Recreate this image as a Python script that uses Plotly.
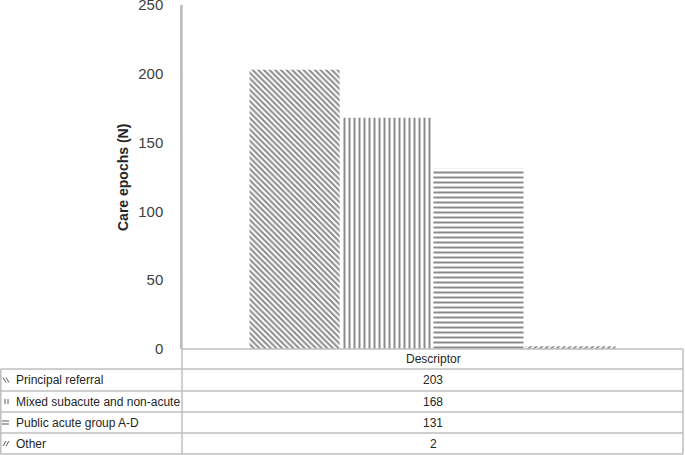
import plotly.graph_objects as go

categories = ["Descriptor"]
series_names = ["Principal referral", "Mixed subacute and non-acute", "Public acute group A-D", "Other"]
series_values = [203, 168, 131, 2]
pattern_shapes = ["\\", "|", "-", "/"]
y_ticks = [0, 50, 100, 150, 200, 250]

W, H = 685, 455
L, R, T, B = 182, 2, 5, 106
PW = W - L - R
PH = H - T - B

def px(x):
    return (x - L) / PW

def py(y):
    return (H - B - y) / PH

fig = go.Figure()
for name, val, shp in zip(series_names, series_values, pattern_shapes):
    fig.add_trace(go.Bar(
        x=categories, y=[val], name=name,
        marker=dict(color="white", line=dict(width=0),
                    pattern=dict(shape=shp, fgcolor="#151515", bgcolor="white",
                                 size=5 if shp in ("|", "-") else 4,
                                 solidity=0.4 if shp in ("|", "-") else 0.5)),
        showlegend=False,
    ))

FONT = "Liberation Sans"
TXT = "#262626"
GRID = "#bfbfbf"

shapes = []
row_lines = [349, 369, 391, 412, 433, 454]
for i, yy in enumerate(row_lines):
    x0 = 182 if i == 0 else 0.5
    shapes.append(dict(type="line", xref="paper", yref="paper", x0=px(x0), x1=px(683),
                       y0=py(yy), y1=py(yy), line=dict(color=GRID, width=1.5), layer="above"))
shapes.append(dict(type="line", xref="paper", yref="paper", x0=px(182), x1=px(182),
                   y0=py(5), y1=py(454), line=dict(color=GRID, width=1.5)))
shapes.append(dict(type="line", xref="paper", yref="paper", x0=px(683), x1=px(683),
                   y0=py(349), y1=py(454), line=dict(color=GRID, width=1.5)))
shapes.append(dict(type="line", xref="paper", yref="paper", x0=px(0.8), x1=px(0.8),
                   y0=py(369), y1=py(454), line=dict(color=GRID, width=1.5)))

row_centers = [380, 401.5, 422.5, 443.5]
ICON = "#595959"
def seg(x0, y0, x1, y1):
    shapes.append(dict(type="line", xref="paper", yref="paper", x0=px(x0), x1=px(x1),
                       y0=py(y0), y1=py(y1), line=dict(color=ICON, width=1)))
c = row_centers[0]
seg(3, c - 2.5, 6, c + 2.5); seg(6, c - 2.5, 9, c + 2.5)
c = row_centers[1]
seg(5, c - 2.5, 5, c + 2.5); seg(8, c - 2.5, 8, c + 2.5)
c = row_centers[2]
seg(2, c - 1.5, 9, c - 1.5); seg(2, c + 1.5, 9, c + 1.5)
c = row_centers[3]
seg(3, c + 2.5, 6, c - 2.5); seg(6, c + 2.5, 9, c - 2.5)

annotations = []
def ann(text, x, y, xa="center", size=12, angle=0):
    annotations.append(dict(text=text, xref="paper", yref="paper", x=px(x), y=py(y),
                            xanchor=xa, yanchor="middle", showarrow=False, textangle=angle,
                            font=dict(family=FONT, size=size, color=TXT)))

ann("Descriptor", 433, 359)
for name, val, cy in zip(series_names, series_values, row_centers):
    ann(name, 14, cy, xa="left")
    ann(str(val), 433, cy)
ann("<b>Care epochs (N)</b>", 123, 178, size=14, angle=-90)

fig.update_layout(
    width=W, height=H,
    margin=dict(l=L, r=R, t=T, b=B, pad=0, autoexpand=False),
    plot_bgcolor="white", paper_bgcolor="white",
    barmode="group", bargap=0.266, bargroupgap=0.02,
    xaxis=dict(showticklabels=False, showgrid=False, zeroline=False, showline=False,
               ticks="", automargin=False),
    yaxis=dict(range=[0, 250], tickvals=y_ticks, showgrid=False, zeroline=False,
               showline=True, linecolor=GRID, linewidth=1.5, ticks="",
               ticklabelstandoff=14, automargin=False, ticklabeloverflow="allow",
               tickfont=dict(family=FONT, size=15, color="#404040")),
    shapes=shapes, annotations=annotations,
)

fig.write_html("out.html", config={"displayModeBar": False},
               post_script="document.body.style.margin='0';document.body.style.overflow='hidden';")
